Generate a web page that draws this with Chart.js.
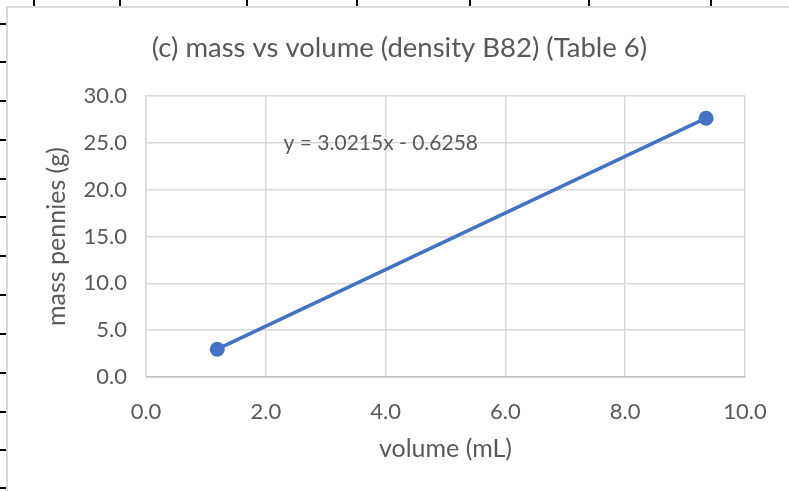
<!DOCTYPE html>
<html>
<head>
<meta charset="utf-8">
<script src="https://cdn.jsdelivr.net/npm/chart.js@4.4.1/dist/chart.umd.min.js"></script>
<style>
  html, body { margin: 0; padding: 0; background: #fff; overflow: hidden; width: 789px; height: 491px; }
  .cell-v { position: absolute; top: 0; width: 2px; height: 6px; background: #000; }
  .cell-h { position: absolute; left: 0; width: 6px; height: 2px; background: #000; }
  #frame { position: absolute; left: 6px; top: 6px; width: 800px; height: 500px; border-left: 2px solid #d9d9d9; border-top: 2px solid #d9d9d9; background: #fff; }
  #chartBox { position: absolute; left: 8px; top: 8px; width: 783px; height: 483px; }
</style>
</head>
<body>
<div id="frame"></div>
<div id="chartBox"><canvas id="densityChart" width="783" height="483"></canvas></div>
<script>
// spreadsheet cell borders peeking out around the chart object
const cellColumns = [34, 120, 247, 357, 470, 589, 711];
const cellRows    = [24, 62, 101, 140, 179, 217, 256, 295, 334, 373, 412, 450, 488];

// data
const volumeMl   = [1.19, 9.35];
const massGrams  = [2.97, 27.63];
const chartTitle = '(c) mass vs volume (density B82) (Table 6)';
const trendLabel = 'y = 3.0215x - 0.6258';
const labelAt    = { x: 3.92, y: 25.0 };

const xTicks = [0, 2, 4, 6, 8, 10];
const yTicks = [0, 5, 10, 15, 20, 25, 30];

cellColumns.forEach(x => {
    const d = document.createElement('div');
    d.className = 'cell-v';
    d.style.left = (x - 1) + 'px';
    document.body.insertBefore(d, document.getElementById('frame'));
});
cellRows.forEach(y => {
    const d = document.createElement('div');
    d.className = 'cell-h';
    d.style.top = (y - 1) + 'px';
    document.body.insertBefore(d, document.getElementById('frame'));
});

const textColor = '#595959';
const gridColor = '#d9d9d9';
const fontFamily = 'Lato, "Open Sans", sans-serif';

// title centred on the whole chart object (not on the plot), plus the trendline equation
const chartTexts = {
    id: 'chartTexts',
    afterDatasetsDraw(chart) {
        const { ctx, scales } = chart;
        ctx.save();
        ctx.fillStyle = textColor;
        ctx.textAlign = 'center';
        ctx.textBaseline = 'middle';
        ctx.font = '27.5px ' + fontFamily;
        ctx.fillText(chartTitle, chart.width / 2, 40);
        ctx.font = '21px ' + fontFamily;
        ctx.fillText(trendLabel, scales.x.getPixelForValue(labelAt.x), scales.y.getPixelForValue(labelAt.y));
        ctx.restore();
    }
};

new Chart(document.getElementById('densityChart').getContext('2d'), {
    type: 'scatter',
    data: {
        datasets: [{
            label: 'mass vs volume',
            data: volumeMl.map((v, i) => ({ x: v, y: massGrams[i] })),
            showLine: true,
            borderColor: '#4472c4',
            backgroundColor: '#4472c4',
            borderWidth: 3.5,
            pointRadius: 7.5,
            pointHoverRadius: 7.5,
            pointBorderWidth: 0,
        }],
    },
    options: {
        responsive: false,
        animation: false,
        events: [],
        layout: { padding: { top: 88, right: 46, bottom: 0, left: 0 } },
        plugins: {
            legend: { display: false },
            tooltip: { enabled: false },
            title: { display: false },
        },
        scales: {
            x: {
                type: 'linear',
                min: 0,
                max: 10,
                afterBuildTicks: axis => { axis.ticks = xTicks.map(v => ({ value: v })); },
                afterFit: axis => { axis.height = 114; },
                ticks: {
                    color: textColor,
                    font: { family: fontFamily, size: 22 },
                    padding: 22,
                    callback: v => v.toFixed(1),
                },
                grid: { color: gridColor, lineWidth: 1.5, drawTicks: false },
                border: { color: '#bfbfbf', width: 1.5 },
                title: {
                    display: true,
                    text: 'volume (mL)',
                    color: textColor,
                    font: { family: fontFamily, size: 25 },
                    padding: { top: 0, bottom: 27 },
                },
            },
            y: {
                type: 'linear',
                min: 0,
                max: 30,
                afterBuildTicks: axis => { axis.ticks = yTicks.map(v => ({ value: v })); },
                afterFit: axis => { axis.width = 138; },
                ticks: {
                    color: textColor,
                    font: { family: fontFamily, size: 22 },
                    padding: 19,
                    callback: v => v.toFixed(1),
                },
                grid: { color: gridColor, lineWidth: 1.5, drawTicks: false },
                border: { color: gridColor, width: 1.5 },
                title: {
                    display: true,
                    text: 'mass pennies (g)',
                    color: textColor,
                    font: { family: fontFamily, size: 25 },
                    padding: { top: 34, bottom: 0 },
                },
            },
        },
    },
    plugins: [chartTexts],
});
</script>
</body>
</html>
